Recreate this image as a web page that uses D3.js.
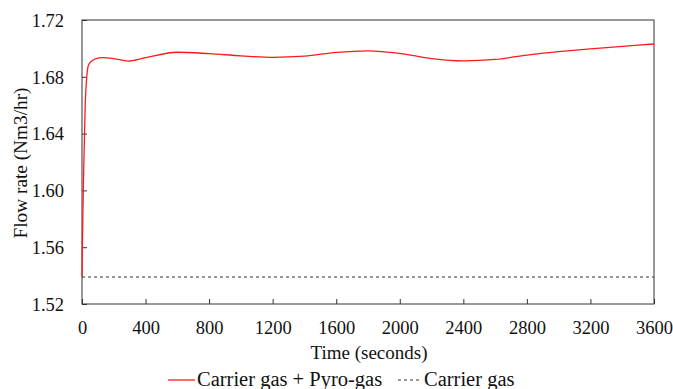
<!DOCTYPE html>
<html>
<head>
<meta charset="utf-8">
<script src="https://cdn.jsdelivr.net/npm/d3@7"></script>
<style>
  body { margin: 0; background: #fff; }
  svg text { font-family: "Liberation Serif", "Times New Roman", Times, serif; fill: #111; }
</style>
</head>
<body>
<svg id="chart" width="673" height="389"></svg>
<script>
// time (s) and flow rate readings
const timeSec = [0, 5, 10, 20, 30, 40, 60, 80, 130, 200, 290, 400, 600, 800, 1000, 1200, 1400, 1600, 1800, 2000, 2200, 2400, 2600, 2800, 3000, 3200, 3400, 3600];
const pyroFlow = [1.539, 1.58, 1.61, 1.66, 1.68, 1.688, 1.691, 1.6925, 1.6935, 1.6928, 1.6911, 1.6935, 1.6973, 1.6963, 1.6948, 1.6937, 1.6945, 1.6972, 1.6983, 1.6965, 1.6928, 1.6912, 1.6922, 1.6953, 1.6977, 1.6997, 1.7014, 1.7031];
const carrierFlow = 1.539;
const xTicks = [0, 400, 800, 1200, 1600, 2000, 2400, 2800, 3200, 3600];
const yTicks = [1.52, 1.56, 1.60, 1.64, 1.68, 1.72];
const seriesNames = ['Carrier gas + Pyro-gas', 'Carrier gas'];

const FONT = '"Liberation Serif", "Times New Roman", Times, serif';

const margin = { top: 20, right: 19, bottom: 85, left: 82 };
const width = 673, height = 389;
const chartW = width - margin.left - margin.right;
const chartH = height - margin.top - margin.bottom;

const svg = d3.select('#chart');
const g = svg.append('g').attr('transform', `translate(${margin.left},${margin.top})`);

const x = d3.scaleLinear().domain([0, 3600]).range([0, chartW]);
const y = d3.scaleLinear().domain([1.52, 1.72]).range([chartH, 0]);

// frame
g.append('rect')
  .attr('width', chartW).attr('height', chartH)
  .attr('fill', 'none').attr('stroke', '#555').attr('stroke-width', 1.2);

const xAxis = g.append('g')
  .attr('transform', `translate(0,${chartH})`)
  .call(d3.axisBottom(x).tickValues(xTicks).tickSize(-5).tickPadding(17).tickFormat(d3.format('d')));

const yAxis = g.append('g')
  .call(d3.axisLeft(y).tickValues(yTicks).tickSize(-5).tickPadding(18).tickFormat(d3.format('.2f')));

[xAxis, yAxis].forEach(a => {
  a.attr('font-family', FONT).attr('font-size', 18.5);
  a.select('.domain').remove();
  a.selectAll('line').attr('stroke', '#333');
  a.selectAll('text').attr('font-family', FONT).attr('font-size', 18.5).attr('fill', '#111');
});
yAxis.selectAll('text').attr('dy', '0.34em');

// carrier gas line
g.append('line')
  .attr('x1', x(0)).attr('x2', x(3600))
  .attr('y1', y(carrierFlow)).attr('y2', y(carrierFlow))
  .attr('stroke', '#333').attr('stroke-width', 1).attr('stroke-dasharray', '3,3');

// carrier + pyro line
const line = d3.line()
  .x((d, i) => x(timeSec[i]))
  .y(d => y(d))
  .curve(d3.curveMonotoneX);

g.append('path')
  .datum(pyroFlow)
  .attr('d', line)
  .attr('fill', 'none')
  .attr('stroke', '#ff1a1a')
  .attr('stroke-width', 1.3);

// axis titles
svg.append('text')
  .attr('x', margin.left + chartW / 2 + 1).attr('y', 359)
  .attr('text-anchor', 'middle').attr('font-family', FONT).attr('font-size', 19)
  .text('Time (seconds)');

svg.append('text')
  .attr('transform', 'translate(27,163) rotate(-90)')
  .attr('text-anchor', 'middle').attr('font-family', FONT).attr('font-size', 19.3)
  .text('Flow rate (Nm3/hr)');

// legend
const leg = svg.append('g').attr('transform', 'translate(0,380)');
leg.append('line').attr('x1', 168).attr('x2', 195).attr('y1', 0).attr('y2', 0)
  .attr('stroke', '#ff1a1a').attr('stroke-width', 1.3);
leg.append('text').attr('x', 197).attr('y', 6).attr('font-family', FONT).attr('font-size', 20.5).text(seriesNames[0]);
leg.append('line').attr('x1', 398).attr('x2', 421).attr('y1', 0).attr('y2', 0)
  .attr('stroke', '#333').attr('stroke-width', 1).attr('stroke-dasharray', '3,3');
leg.append('text').attr('x', 424).attr('y', 6).attr('font-family', FONT).attr('font-size', 20.5).text(seriesNames[1]);
</script>
</body>
</html>
